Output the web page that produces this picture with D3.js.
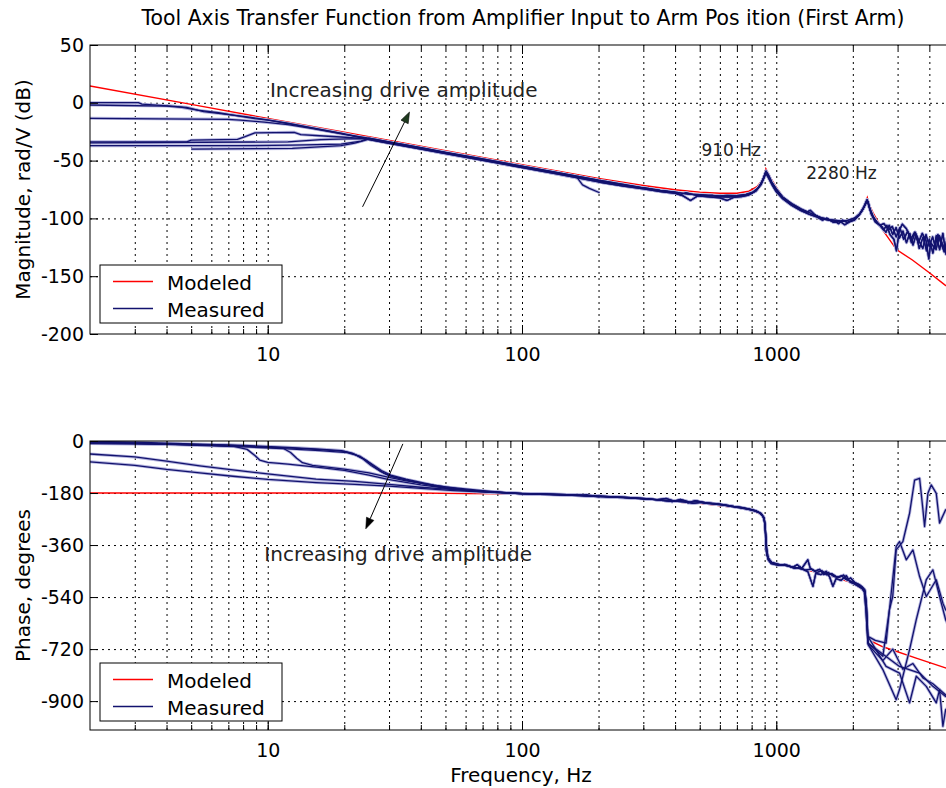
<!DOCTYPE html>
<html>
<head>
<meta charset="utf-8">
<script src="https://cdnjs.cloudflare.com/ajax/libs/d3/7.8.5/d3.min.js"></script>
<style>
  body { margin: 0; background: #fff; }
  svg { display: block; font-family: "DejaVu Sans", sans-serif; }
  .grid line { stroke: #000; stroke-width: 1; stroke-dasharray: 2, 4; }
  .grid .domain { display: none; }
  .frame { fill: none; stroke: #000; stroke-width: 1; }
  .modeled { fill: none; stroke: #ff0000; stroke-width: 1.4; }
  .measured { fill: none; stroke: #12126e; stroke-width: 1.3; stroke-linejoin: round; }
  .halo { fill: none; stroke: #b4b4de; stroke-width: 3; stroke-linejoin: round; }
  .ticks .domain { display: none; }
  .ticks line { stroke: #000; }
  .ticks text { font-size: 19px; fill: #000; font-family: "DejaVu Sans", sans-serif; }
  .axis-title { font-size: 20px; fill: #000; }
  .title { font-size: 20.4px; fill: #000; }
  .legend-box { fill: #fff; stroke: #000; stroke-width: 1; }
  .legend-text { font-size: 20px; fill: #000; }
  .note { font-size: 20px; fill: #222; }
  .peak-note { font-size: 17px; fill: #222; }
</style>
</head>
<body>
<div class="visualization"></div>
<script>
// ---- axes ----
const freqLabels = [10, 100, 1000];
const magTicks = [50, 0, -50, -100, -150, -200];
const phaseTicks = [0, -180, -360, -540, -720, -900];

// ---- modeled response ----
const modelMagFreq = [2, 5, 10, 20, 50, 100, 200, 300, 400, 500, 600, 700, 780, 840, 880, 900, 910, 925, 950, 1000,
  1060, 1150, 1250, 1500, 1700, 1900, 2050, 2150, 2220, 2280, 2320, 2400, 2620, 2970, 3430, 4000, 4600, 5000];
const modelMag = [14.5, -1.4, -13.5, -25.5, -41.4, -53.5, -65.5, -71.5, -75.2, -77.3, -78.3, -78.2, -76.5, -72.5, -67, -61.5, -57, -60, -65, -73,
  -81, -87, -91.5, -99.5, -102, -102.5, -99.5, -94.5, -89, -82, -88, -95, -110, -127, -136, -147, -157.5, -163];

const modelPhaseFreq = [2, 40, 60, 100, 150, 200, 300, 400, 500, 675, 800, 860, 890, 905, 913, 940, 1030, 1235, 1670, 2000,
  2190, 2250, 2290, 2330, 2625, 3550, 4630, 5000];
const modelPhase = [-180, -180, -182, -183, -187, -192, -200, -211, -216, -229, -240, -252, -265, -290, -380, -415, -428, -440, -469, -492,
  -515, -527, -660, -690, -712, -751, -785, -795];

// ---- measured magnitude, dB: low frequency starts ----
const magHead1 = [[2, 0.1], [3.1, 0.1], [3.2, -1.2], [4.2, -2.8], [4.8, -3.9], [5.6, -7.7], [7.3, -10.6], [8.3, -12.2], [10, -14.8], [12, -17.7], [15, -21.6], [20, -26.8]];
const magHead2 = [[2, -1.9], [4, -2.8], [4.6, -4], [5.3, -6.4], [6.4, -8.6], [7.4, -10.8], [8.9, -13.6], [10, -15], [12, -18], [15, -22], [20, -27]];
const magHead3 = [[2, -13.4], [6.96, -14.3], [7.8, -15], [8.9, -16], [9.7, -16.8], [11, -18], [12, -18.8], [15, -22.3], [20, -27.3]];
const magHead4 = [[2, -33.8], [4.8, -33.8], [5.0, -32.3], [7.6, -31.6], [8.1, -29.5], [8.9, -26], [12.7, -25.5], [13.5, -27.5], [16, -28.5], [19.4, -29.6], [22, -30.4], [24, -31]];
const magHead5 = [[2, -34.6], [12, -33.8], [16.2, -31.8], [20.6, -31.2], [24.1, -31]];
const magHead6 = [[2, -37.1], [7.6, -37.1], [12.5, -36.7], [19.4, -35.8], [23.3, -33.2]];
const magHead7 = [[5, -40], [12.5, -39.5], [19.4, -37.1], [22, -34.8], [24.1, -32.5]];

// ---- measured magnitude, dB: from 25 Hz up ----
const magTailA = [[25, -31.2], [30, -34.3], [40, -39.3], [50, -43.2], [70, -49.1], [100, -55.3], [140, -61], [200, -67.5], [250, -71], [300, -73.8],
  [350, -76], [400, -77.6], [420, -79.5], [440, -77.8], [480, -79.8], [520, -80.5], [560, -80.2], [600, -81.3], [650, -81.5], [700, -81],
  [750, -80], [800, -78.3], [840, -75], [870, -70], [895, -64], [910, -59.5], [930, -63], [960, -69], [1000, -75.5], [1060, -82],
  [1150, -88], [1250, -92.5], [1320, -94.5], [1360, -93], [1420, -97], [1500, -100], [1600, -101.5], [1700, -102.5], [1760, -104.5], [1820, -101.5],
  [1900, -103.5], [2000, -101.5], [2100, -98], [2180, -93], [2240, -88], [2280, -84], [2320, -90], [2400, -98], [2500, -104], [2600, -107],
  [2700, -112], [2780, -106], [2870, -114], [2960, -108], [3050, -117], [3150, -111], [3250, -121], [3350, -113], [3450, -123], [3550, -114],
  [3650, -126], [3780, -116], [3900, -128], [4000, -118], [4130, -130], [4260, -115], [4390, -127], [4520, -113], [4650, -131], [4800, -117], [5000, -128]];
const magTailB = [[25, -31.8], [30, -35], [40, -40], [50, -44], [70, -49.8], [100, -56], [140, -62], [200, -68.5], [250, -72], [300, -74.5],
  [350, -76.8], [400, -78.4], [430, -80.5], [460, -84.5], [490, -80.6], [540, -81.3], [600, -82.2], [640, -84.5], [680, -81.8], [730, -81.2],
  [780, -79.8], [830, -76.5], [870, -71], [895, -65], [910, -61], [930, -64.5], [960, -70.5], [1000, -77], [1060, -83], [1150, -88.8],
  [1250, -93.3], [1350, -96.5], [1450, -99], [1520, -101.5], [1580, -99.8], [1680, -103.5], [1780, -102.5], [1860, -105.5], [1940, -103], [2030, -101.5],
  [2120, -97], [2200, -91.5], [2250, -87], [2280, -84.5], [2330, -92], [2420, -100], [2530, -105], [2640, -110], [2720, -106], [2800, -114],
  [2900, -118], [2970, -128], [3050, -110], [3130, -105], [3250, -109], [3380, -118], [3500, -112], [3620, -121], [3750, -113], [3880, -119],
  [3980, -135], [4050, -121], [4200, -126], [4320, -114], [4450, -122], [4580, -129], [4700, -117], [4850, -126], [5000, -119]];
const magTailC = [[25, -30.6], [30, -33.8], [40, -38.8], [50, -42.8], [70, -48.6], [100, -54.8], [140, -60.6], [200, -67], [250, -70.5], [300, -73.5],
  [350, -75.7], [400, -77.3], [450, -79], [500, -79.5], [550, -80], [600, -80.5], [640, -80.2], [700, -80.4], [760, -79.2], [810, -77.2],
  [850, -73.5], [880, -68], [900, -62.5], [912, -59], [930, -62], [960, -68.5], [1000, -74.5], [1060, -81.5], [1150, -87.2], [1250, -91.8],
  [1380, -96], [1500, -99.3], [1620, -101], [1720, -101.8], [1830, -102.5], [1920, -101.5], [2030, -99.8], [2130, -96], [2210, -90], [2270, -84],
  [2300, -86], [2360, -96], [2450, -103], [2550, -106], [2650, -104.5], [2760, -110], [2860, -107], [2960, -116], [3060, -108], [3170, -118],
  [3290, -111], [3400, -121], [3520, -112], [3650, -120], [3770, -126], [3880, -114], [4000, -124], [4120, -116], [4250, -127], [4380, -115],
  [4500, -122], [4620, -128], [4780, -116], [5000, -124]];
const magTailShort = [[25, -31.5], [30, -34.6], [40, -39.6], [50, -43.5], [70, -49.4], [100, -55.6], [130, -59.5], [164, -64], [173, -71], [184, -74], [202, -77.8]];

// ---- measured phase, degrees: low frequency starts ----
const phaseHead1 = [[2, -3], [3, -8], [5.2, -13], [7.3, -18], [8.3, -29], [8.9, -50], [9.3, -66], [10, -74], [12, -80], [16.2, -92], [20, -102], [25, -118], [29.7, -133], [40, -152], [54, -167], [75, -176]];
const phaseHead2 = [[2, -6], [4, -10], [7, -14], [11.5, -25], [12.3, -40], [13, -60], [13.7, -75], [15, -84], [20, -97], [25, -110], [29.7, -125], [35, -138], [50, -159], [70, -172]];
const phaseHead3 = [[2, -1], [3, -4], [5, -10], [8, -15], [12, -22], [16, -28], [19.5, -33], [21.5, -42], [23.5, -60], [25.5, -85], [27.6, -104], [30, -120], [37, -140], [50, -162], [68, -174], [85, -179]];
const phaseHead4 = [[2, -5], [3, -7], [5, -13], [8, -18], [12, -24], [16, -30], [20, -36], [22, -46], [24.3, -66], [26.5, -92], [28.5, -110], [31, -124], [38, -142], [50, -163], [68, -175], [85, -179.5]];
const phaseHead5 = [[2, -9], [4, -12], [8, -20], [12, -27], [16, -33], [20.5, -40], [23, -52], [25.5, -78], [28, -102], [30.5, -118], [35, -132], [45, -153], [60, -169], [80, -177]];
const phaseHead6 = [[2, -45], [3, -55], [4, -70], [5.4, -86], [7.3, -100], [10, -114], [15.5, -132], [22, -140], [30, -150], [40, -160], [54, -168], [75, -176]];
const phaseHead7 = [[2, -72], [3, -84], [4, -98], [5.4, -110], [7.3, -122], [10, -133], [15.5, -144], [22, -150], [30, -156], [40, -164], [54, -172], [75, -178]];

// ---- measured phase, degrees: 100 Hz to the second resonance ----
const phaseTailA = [[100, -182], [150, -186], [200, -191], [250, -195], [300, -199], [340, -203], [370, -199], [400, -209], [430, -205], [460, -212],
  [490, -208], [530, -214], [580, -217], [630, -221], [680, -226], [730, -230], [780, -235], [830, -241], [870, -250], [895, -265],
  [905, -300], [915, -370], [930, -405], [960, -420], [1030, -428], [1100, -431], [1160, -437], [1210, -428], [1260, -441], [1330, -411],
  [1360, -440], [1420, -450], [1480, -444], [1540, -462], [1600, -455], [1680, -468], [1760, -472], [1840, -464], [1900, -480], [1960, -474],
  [2040, -490], [2120, -497], [2180, -505], [2230, -515], [2260, -560], [2280, -630], [2292, -676]];
const phaseTailB = [[100, -183], [150, -187], [200, -192.5], [250, -196], [300, -200], [350, -204], [390, -210], [420, -202], [450, -214], [480, -206],
  [520, -215], [570, -218], [620, -222], [670, -227], [720, -231], [770, -236], [820, -242], [860, -249], [890, -262], [903, -290],
  [913, -380], [928, -410], [955, -424], [1020, -430], [1080, -427], [1140, -434], [1200, -438], [1280, -445], [1331, -452], [1394, -503],
  [1430, -458], [1500, -462], [1573, -451], [1620, -470], [1670, -503], [1720, -476], [1800, -482], [1885, -466], [1950, -488], [2020, -494],
  [2100, -502], [2170, -510], [2220, -522], [2250, -580], [2275, -650], [2292, -699]];
const phaseTailC = [[100, -181.5], [150, -185.5], [200, -190.5], [260, -195.5], [320, -201], [360, -206], [400, -208], [440, -211], [470, -216], [510, -212],
  [560, -216.5], [610, -220], [660, -225], [710, -229], [760, -234], [810, -239], [850, -246], [880, -256], [900, -276], [910, -330],
  [920, -395], [945, -417], [990, -426], [1060, -429], [1120, -433], [1180, -441], [1240, -436], [1300, -447], [1370, -443], [1440, -455],
  [1510, -449], [1580, -463], [1650, -459], [1730, -471], [1810, -467], [1880, -479], [1960, -485], [2040, -492], [2110, -499], [2180, -508],
  [2230, -520], [2260, -570], [2285, -660], [2300, -705]];
const phaseTailShort = [[100, -182], [130, -185], [160, -188], [180, -186], [202, -194]];

// ---- measured phase, degrees: above the second resonance ----
const phaseEnd1 = [[2450, -690], [2703, -699], [2786, -584], [2871, -538], [2962, -377], [3147, -348], [3344, -250], [3500, -135], [3662, -129],
  [3774, -238], [3831, -296], [3948, -181], [4069, -152], [4258, -181], [4388, -284], [4635, -238], [5000, -260]];
const phaseEnd2 = [[2625, -745], [2786, -584], [2962, -365], [3053, -348], [3245, -411], [3447, -377], [3662, -469], [3890, -538], [4258, -480],
  [4522, -561], [4635, -584], [5000, -610]];
const phaseEnd3 = [[2625, -791], [2962, -895], [3053, -860], [3344, -722], [3553, -618], [3890, -480], [4130, -446], [4388, -538], [4635, -618], [5000, -680]];
const phaseEnd4 = [[2703, -780], [3053, -803], [3344, -906], [3553, -814], [3890, -849], [4258, -906], [4388, -860], [4522, -987], [4635, -930], [5000, -900]];
const phaseEnd5 = [[3053, -780], [3662, -803], [4130, -849], [4635, -884], [5000, -880]];
const phaseEnd6 = [[2625, -760], [2871, -720], [3147, -790], [3447, -770], [3774, -820], [4130, -840], [4522, -870], [5000, -905]];

const magTraces = [
  magHead1.concat(magTailA), magHead2.concat(magTailB), magHead3.concat(magTailC),
  magHead4.concat(magTailA), magHead5.concat(magTailB), magHead6.concat(magTailC),
  magHead7.concat(magTailShort)
];
const phaseTraces = [
  phaseHead1.concat(phaseTailA, phaseEnd1), phaseHead2.concat(phaseTailB, phaseEnd2),
  phaseHead3.concat(phaseTailC, phaseEnd3), phaseHead4.concat(phaseTailA, phaseEnd4),
  phaseHead5.concat(phaseTailB, phaseEnd5), phaseHead6.concat(phaseTailC, phaseEnd6),
  phaseHead7.concat(phaseTailShort)
];

class BodeChart {
  constructor() {
    this.width = 946;
    this.height = 788;
    this.left = 90;
    this.right = 954;

    this.svg = d3.select(".visualization")
      .append("svg")
      .attr("width", this.width)
      .attr("height", this.height)
      .attr("viewBox", `0 0 ${this.width} ${this.height}`);

    this.x = d3.scaleLog().domain([2, 5000]).range([this.left, this.right]);

    // every 1..9 x decade inside the domain
    this.freqMinor = [];
    [1, 10, 100, 1000].forEach(dec => {
      for (let k = 1; k <= 9; k++) {
        let f = k * dec;
        if (f > 2 && f < 5000) this.freqMinor.push(f);
      }
    });

    this.svg.append("text")
      .attr("x", 523)
      .attr("y", 25)
      .attr("text-anchor", "middle")
      .attr("class", "title")
      .text("Tool Axis Transfer Function from Amplifier Input to Arm Pos ition (First Arm)");

    let yMag = d3.scaleLinear().domain([-200, 50]).range([334, 45]);
    this.drawPanel("mag", yMag, magTicks, modelMagFreq, modelMag, magTraces, "Magnitude, rad/V (dB)", 265);

    let yPhase = d3.scaleLinear().domain([-1000, 0]).range([730, 441]);
    this.drawPanel("phase", yPhase, phaseTicks, modelPhaseFreq, modelPhase, phaseTraces, "Phase, degrees", 663);

    this.svg.append("text")
      .attr("class", "axis-title")
      .attr("x", 521)
      .attr("y", 782)
      .attr("text-anchor", "middle")
      .text("Frequency, Hz");

    // annotations
    this.note(yMag, 10.2, 4.6, "Increasing drive amplitude", "note");
    this.arrow(yMag, [23.6, -90], [36.1, -8], "#1e3a1e");
    this.note(yMag, 508, -46, "910 Hz", "peak-note");
    this.note(yMag, 1312, -65.9, "2280 Hz", "peak-note");

    this.note(yPhase, 9.7, -415, "Increasing drive amplitude", "note");
    this.arrow(yPhase, [34, -10], [24.3, -304], "#000");
  }

  drawPanel(name, y, ticks, modelFreq, modelVals, traces, label, legendTop) {
    let top = y.range()[1];
    let bottom = y.range()[0];
    let g = this.svg.append("g").attr("class", "panel-" + name);

    g.append("clipPath")
      .attr("id", "clip-" + name)
      .append("rect")
      .attr("x", this.left).attr("y", top)
      .attr("width", this.right - this.left).attr("height", bottom - top);

    // dotted grid
    g.append("g")
      .attr("class", "grid")
      .attr("transform", `translate(0, ${bottom})`)
      .call(d3.axisBottom(this.x).tickValues(this.freqMinor).tickSize(-(bottom - top)).tickFormat(() => ""));
    g.append("g")
      .attr("class", "grid")
      .attr("transform", `translate(${this.left}, 0)`)
      .call(d3.axisLeft(y).tickValues(ticks.filter(t => t !== y.domain()[0] && t !== y.domain()[1]))
        .tickSize(-(this.right - this.left)).tickFormat(() => ""));

    let line = d3.line()
      .x(d => this.x(d[0]))
      .y(d => y(d[1]));

    let plot = g.append("g").attr("clip-path", `url(#clip-${name})`);

    plot.append("path")
      .datum(d3.zip(modelFreq, modelVals))
      .attr("class", "modeled")
      .attr("d", line);

    plot.selectAll(".halo")
      .data(traces)
      .enter().append("path")
      .attr("class", "halo")
      .attr("d", line);

    plot.selectAll(".measured")
      .data(traces)
      .enter().append("path")
      .attr("class", "measured")
      .attr("d", line);

    // frame
    g.append("rect")
      .attr("class", "frame")
      .attr("x", this.left).attr("y", top)
      .attr("width", this.right - this.left).attr("height", bottom - top);

    // ticks: inside, bottom and top
    g.append("g")
      .attr("class", "ticks")
      .attr("transform", `translate(0, ${bottom})`)
      .call(d3.axisBottom(this.x).tickValues(this.freqMinor).tickSize(-5).tickFormat(() => ""));
    g.append("g")
      .attr("class", "ticks")
      .attr("transform", `translate(0, ${bottom})`)
      .call(d3.axisBottom(this.x).tickValues(freqLabels).tickSize(-9).tickPadding(14).tickFormat(d => String(d)));
    g.append("g")
      .attr("class", "ticks")
      .attr("transform", `translate(0, ${top})`)
      .call(d3.axisTop(this.x).tickValues(this.freqMinor).tickSize(-5).tickFormat(() => ""));
    g.append("g")
      .attr("class", "ticks")
      .attr("transform", `translate(0, ${top})`)
      .call(d3.axisTop(this.x).tickValues(freqLabels).tickSize(-9).tickFormat(() => ""));
    g.append("g")
      .attr("class", "ticks")
      .attr("transform", `translate(${this.left}, 0)`)
      .call(d3.axisLeft(y).tickValues(ticks).tickSize(-8).tickPadding(6).tickFormat(d => String(d)));

    g.selectAll(".ticks").attr("font-size", null).attr("font-family", null);

    g.append("text")
      .attr("class", "axis-title")
      .attr("transform", `translate(30, ${(top + bottom) / 2}) rotate(-90)`)
      .attr("text-anchor", "middle")
      .text(label);

    // legend
    let lg = g.append("g").attr("transform", `translate(100, ${legendTop})`);
    lg.append("rect")
      .attr("class", "legend-box")
      .attr("width", 182).attr("height", 58);
    [["Modeled", "modeled"], ["Measured", "measured"]].forEach((item, i) => {
      lg.append("line")
        .attr("class", item[1])
        .attr("x1", 13).attr("x2", 53)
        .attr("y1", 16.5 + i * 27).attr("y2", 16.5 + i * 27);
      lg.append("text")
        .attr("class", "legend-text")
        .attr("x", 67)
        .attr("y", 24.5 + i * 27)
        .text(item[0]);
    });
  }

  note(y, f, v, txt, cls) {
    this.svg.append("text")
      .attr("class", cls)
      .attr("x", this.x(f))
      .attr("y", y(v))
      .text(txt);
  }

  arrow(y, from, to, color) {
    let x1 = this.x(from[0]), y1 = y(from[1]);
    let x2 = this.x(to[0]), y2 = y(to[1]);
    let ang = Math.atan2(y2 - y1, x2 - x1);
    let len = 11, half = 4;
    let bx = x2 - len * Math.cos(ang), by = y2 - len * Math.sin(ang);
    this.svg.append("line")
      .attr("x1", x1).attr("y1", y1)
      .attr("x2", bx).attr("y2", by)
      .attr("stroke", "#000").attr("stroke-width", 1);
    this.svg.append("path")
      .attr("d", `M${x2},${y2}L${bx - half * Math.sin(ang)},${by + half * Math.cos(ang)}L${bx + half * Math.sin(ang)},${by - half * Math.cos(ang)}Z`)
      .attr("fill", color)
      .attr("stroke", "#000")
      .attr("stroke-width", 0.6);
  }
}

new BodeChart();
</script>
</body>
</html>
